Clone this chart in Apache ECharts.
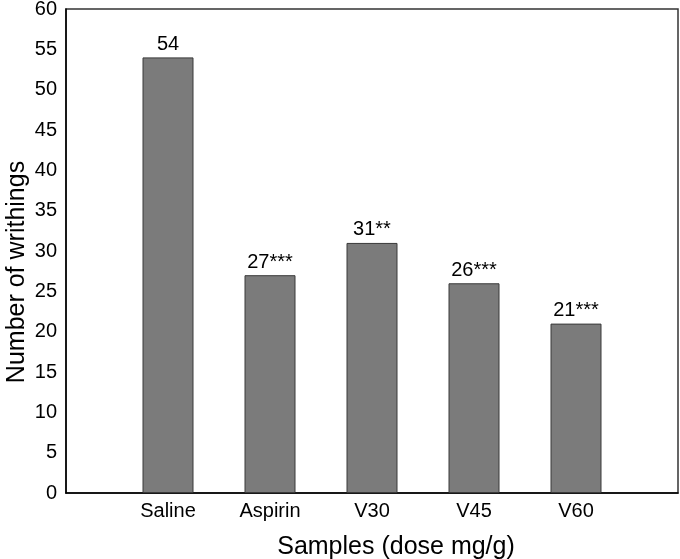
<!DOCTYPE html>
<html><head><meta charset="utf-8">
<script src="https://cdn.jsdelivr.net/npm/echarts@6/dist/echarts.min.js"></script>
<style>html,body{margin:0;padding:0;background:#fff}#c{width:680px;height:559px}</style>
</head><body><div id="c"></div>
<script>
const categories = ['Saline', 'Aspirin', 'V30', 'V45', 'V60'];
const values = [54, 27, 31, 26, 21];
const marks = ['', '***', '**', '***', '***'];
const yTicks = [0, 5, 10, 15, 20, 25, 30, 35, 40, 45, 50, 55, 60];

const cats = [''].concat(categories).concat(['']);
const data = ['-'].concat(values.map((v, i) => ({value: v, mark: marks[i]}))).concat(['-']);

const chart = echarts.init(document.getElementById('c'));
const font = 'Liberation Sans, Arial, sans-serif';
chart.setOption({
  animation: false,
  grid: {left: 66, top: 9, right: 2, bottom: 66, show: true, borderColor: '#333', borderWidth: 1.5,
         containLabel: false, outerBoundsMode: 'none'},
  xAxis: {
    type: 'category', data: cats, boundaryGap: false,
    axisLine: {lineStyle: {color: '#000', width: 1.5}},
    axisTick: {show: false},
    axisLabel: {color: '#000', fontSize: 20, fontFamily: font, margin: 8},
    name: 'Samples (dose mg/g)', nameLocation: 'middle', nameGap: 42,
    nameTextStyle: {color: '#000', fontSize: 25, fontFamily: font, padding: [0, 0, 0, 48]}
  },
  yAxis: {
    type: 'value', min: yTicks[0], max: yTicks[yTicks.length - 1], interval: 5,
    axisLine: {show: true, lineStyle: {color: '#000', width: 1.5}},
    axisTick: {show: false},
    splitLine: {show: false},
    axisLabel: {color: '#000', fontSize: 20, fontFamily: font, margin: 9},
    name: 'Number of writhings', nameLocation: 'middle', nameGap: 36, nameMoveOverlap: false,
    nameTextStyle: {color: '#000', fontSize: 25, fontFamily: font, padding: [0, 42, 0, 0]}
  },
  series: [{
    type: 'bar', data: data, barWidth: 51,
    itemStyle: {color: '#7b7b7b', borderColor: '#3a3a3a', borderWidth: 1},
    label: {
      show: true, position: 'top', distance: 3,
      color: '#000', fontSize: 20, fontFamily: font,
      formatter: p => p.value + p.data.mark
    }
  }]
});
</script></body></html>
